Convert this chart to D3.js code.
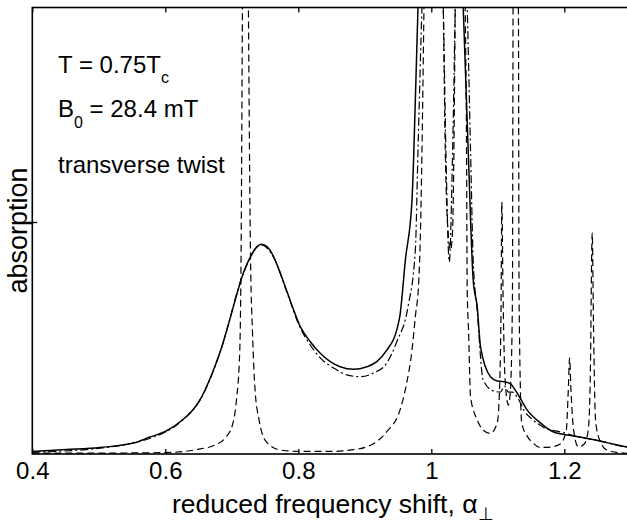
<!DOCTYPE html>
<html>
<head>
<meta charset="utf-8">
<script src="https://cdn.jsdelivr.net/npm/d3@7"></script>
<style>
  html, body { margin: 0; padding: 0; background: #fff; }
  svg { display: block; }
  text { font-family: "Liberation Sans", Arial, Helvetica, sans-serif; fill: #000; }
</style>
</head>
<body>
<svg id="chart" width="627" height="525"></svg>
<script>
// ---- data ----
const xTicks = [0.4, 0.6, 0.8, 1.0, 1.2];
const yTicks = [1];

const solidAlpha = [0.400,0.451,0.502,0.552,0.577,0.600,0.627,0.640,0.653,0.668,0.683,0.698,0.708,0.718,0.728,0.738,0.744,0.753,0.763,0.773,0.783,0.793,0.803,0.818,0.833,0.848,0.863,0.883,0.903,0.918,0.933,0.948,0.953,0.961,0.971,0.9735,0.980,0.995,1.015,1.035,1.048,1.056,1.063,1.069,1.074,1.089,1.099,1.108,1.119,1.129,1.144,1.164,1.183,1.214,1.239,1.264,1.294,1.300];
const solidAbs   = [0.011,0.019,0.028,0.047,0.073,0.097,0.150,0.185,0.238,0.330,0.445,0.590,0.693,0.786,0.850,0.894,0.904,0.894,0.850,0.779,0.700,0.621,0.549,0.484,0.434,0.398,0.376,0.365,0.376,0.398,0.448,0.534,0.600,0.836,1.095,1.280,1.927,2.800,3.200,2.900,1.927,1.267,0.750,0.635,0.463,0.333,0.315,0.312,0.302,0.263,0.190,0.134,0.096,0.078,0.065,0.049,0.031,0.029];

const dashDotAlpha = [0.400,0.502,0.600,0.627,0.653,0.683,0.718,0.744,0.763,0.783,0.803,0.818,0.833,0.853,0.873,0.893,0.913,0.933,0.948,0.965,0.976,0.980,0.986,1.000,1.012,1.018,1.022,1.027,1.032,1.036,1.039,1.045,1.054,1.059,1.063,1.069,1.078,1.093,1.104,1.110,1.116,1.122,1.129,1.141,1.153,1.171,1.194,1.224,1.254,1.293,1.300];
const dashDotAbs   = [0.008,0.025,0.095,0.148,0.236,0.443,0.783,0.901,0.847,0.696,0.543,0.470,0.414,0.371,0.341,0.333,0.349,0.392,0.483,0.635,0.879,1.310,1.927,2.600,2.400,1.927,1.300,0.828,1.300,1.927,2.400,2.600,1.927,1.310,0.836,0.621,0.319,0.272,0.267,0.293,0.267,0.267,0.246,0.181,0.147,0.112,0.095,0.073,0.056,0.030,0.027];

const dashedAlpha = [0.400,0.502,0.600,0.653,0.675,0.690,0.701,0.707,0.712,0.714,0.716,0.7205,0.725,0.728,0.731,0.735,0.741,0.750,0.773,0.803,0.848,0.878,0.903,0.933,0.953,0.963,0.971,0.976,0.981,0.983,0.986,0.989,0.998,1.010,1.018,1.021,1.025,1.029,1.032,1.034,1.036,1.042,1.051,1.053,1.054,1.056,1.059,1.069,1.078,1.089,1.099,1.102,1.105,1.106,1.108,1.111,1.116,1.119,1.122,1.123,1.127,1.131,1.132,1.136,1.144,1.153,1.164,1.179,1.194,1.203,1.206,1.208,1.210,1.214,1.221,1.230,1.236,1.239,1.242,1.244,1.247,1.252,1.264,1.289,1.300];
const dashedAbs   = [0.004,0.004,0.006,0.022,0.039,0.069,0.125,0.233,0.448,0.879,1.927,4.000,1.927,0.879,0.534,0.276,0.147,0.060,0.017,0.011,0.011,0.017,0.031,0.096,0.190,0.306,0.448,0.592,0.737,0.879,1.310,1.927,3.500,3.000,1.927,1.310,0.966,0.879,0.966,1.310,1.927,3.500,1.927,1.310,0.707,0.534,0.247,0.147,0.103,0.089,0.132,0.233,0.664,1.086,0.664,0.319,0.211,0.276,0.664,1.927,3.000,1.927,0.664,0.134,0.078,0.047,0.028,0.030,0.043,0.103,0.276,0.414,0.276,0.103,0.031,0.043,0.103,0.319,0.953,0.534,0.147,0.069,0.017,0.004,0.003];

const xLabel = "reduced frequency shift, α";
const xLabelSub = "⊥";
const yLabel = "absorption";

// ---- layout ----
const svg = d3.select("#chart");
const W = 627, H = 525;
svg.append("rect").attr("width", W).attr("height", H).attr("fill", "#fff");

const mLeft = 32.3, mRight = 630.8, mTop = 7.5, mBottom = 454;
const x = d3.scaleLinear().domain([0.4, 1.3]).range([mLeft, mRight]);
const y = d3.scaleLinear().domain([0, 1.9246]).range([mBottom, mTop]);

svg.append("defs").append("clipPath").attr("id", "plotclip")
  .append("rect").attr("x", mLeft).attr("y", mTop)
  .attr("width", mRight - mLeft).attr("height", mBottom - mTop);

const zip = (a, b) => a.map((v, i) => [v, b[i]]);
const line = d3.line().x(d => x(d[0])).y(d => y(d[1])).curve(d3.curveMonotoneX);

const plot = svg.append("g").attr("clip-path", "url(#plotclip)");
plot.append("path").datum(zip(dashedAlpha, dashedAbs))
  .attr("d", line).attr("fill", "none").attr("stroke", "#000")
  .attr("stroke-width", 1.2).attr("stroke-dasharray", "7,4");
plot.append("path").datum(zip(dashDotAlpha, dashDotAbs))
  .attr("d", line).attr("fill", "none").attr("stroke", "#000")
  .attr("stroke-width", 1.2).attr("stroke-dasharray", "8,3,2,3");
plot.append("path").datum(zip(solidAlpha, solidAbs))
  .attr("d", line).attr("fill", "none").attr("stroke", "#000")
  .attr("stroke-width", 1.5);

// axes
const fmt = d3.format("~g");
const gx = svg.append("g").attr("transform", `translate(0,${mBottom})`)
  .call(d3.axisBottom(x).tickValues(xTicks).tickFormat(fmt)
        .tickSizeInner(-5).tickSizeOuter(0).tickPadding(8));
const gxt = svg.append("g").attr("transform", `translate(0,${mTop})`)
  .call(d3.axisTop(x).tickValues(xTicks).tickFormat("")
        .tickSizeInner(-5).tickSizeOuter(0));
const gy = svg.append("g").attr("transform", `translate(${mLeft},0)`)
  .call(d3.axisLeft(y).tickValues(yTicks).tickFormat("")
        .tickSizeInner(-5).tickSizeOuter(0));
[gx, gxt, gy].forEach(g => {
  g.select(".domain").remove();
  g.selectAll(".tick line").attr("stroke", "#000").attr("stroke-width", 1.3);
});
gx.selectAll(".tick text").attr("font-size", 24).attr("fill", "#000")
  .style("font-family", '"Liberation Sans", Arial, sans-serif');

// frame
svg.append("rect").attr("x", mLeft).attr("y", mTop)
  .attr("width", mRight - mLeft).attr("height", mBottom - mTop)
  .attr("fill", "none").attr("stroke", "#000").attr("stroke-width", 1.6);

// axis labels
const xl = svg.append("text").attr("x", 172).attr("y", 513).attr("font-size", 26.5);
xl.append("tspan").text(xLabel);
xl.append("tspan").attr("dy", 7).attr("font-size", 18).text(xLabelSub);

svg.append("text").attr("transform", "translate(27,230.5) rotate(-90)")
  .attr("text-anchor", "middle").attr("font-size", 27).text(yLabel);

// annotations
const t1 = svg.append("text").attr("x", 58).attr("y", 73).attr("font-size", 24);
t1.append("tspan").text("T = 0.75T");
t1.append("tspan").attr("dy", 10).attr("font-size", 16).text("c");

const t2 = svg.append("text").attr("x", 58).attr("y", 117).attr("font-size", 24);
t2.append("tspan").text("B");
t2.append("tspan").attr("dy", 11).attr("font-size", 16).text("0");
t2.append("tspan").attr("dy", -11).text(" = 28.4 mT");

svg.append("text").attr("x", 58).attr("y", 173).attr("font-size", 24).text("transverse twist");
</script>
</body>
</html>
